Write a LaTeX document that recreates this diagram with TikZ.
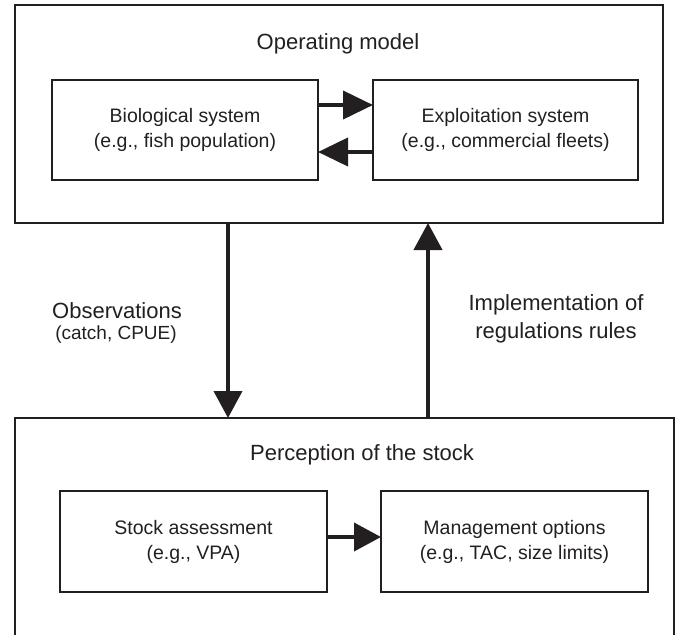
\documentclass[tikz,border=0pt]{standalone}
\usepackage{fontspec}
\setmainfont{Liberation Sans}
\usetikzlibrary{arrows.meta}
\definecolor{ink}{HTML}{231F20}
\begin{document}
\begin{tikzpicture}[x=1pt,y=-1pt,
  outerbox/.style={draw=ink, line width=2pt, inner sep=0pt, outer sep=0pt},
  innerbox/.style={draw=ink, line width=1.4pt, inner sep=0pt, outer sep=0pt, align=center,
    font=\fontsize{19.5}{25}\selectfont, text=ink},
  title/.style={font=\fontsize{22}{26}\selectfont, text=ink, inner sep=0pt, align=center},
  label/.style={text=ink, inner sep=0pt, align=center},
  bigarrow/.style={draw=ink, line width=4pt, -{Triangle[length=30pt,width=28pt]}},
  vertarrow/.style={draw=ink, line width=4pt, -{Triangle[length=27pt,width=28pt]}}
]
\useasboundingbox (0,0) rectangle (676,634);
\clip (0,0) rectangle (676,634);

% outer boxes
\node[outerbox, minimum width=648pt, minimum height=218pt] (om) at (339,114) {};
\node[outerbox, minimum width=659pt, minimum height=242pt] (ps) at (344.5,539) {};

% titles
\node[title] (omt) at (338,44) {Operating model};
\node[title] (pst) at (362,455) {Perception of the stock};

% inner boxes
\node[innerbox, minimum width=266pt, minimum height=100pt] (bio) at (185,130)
  {Biological system\\(e.g., fish population)};
\node[innerbox, minimum width=265pt, minimum height=100pt] (exp) at (505.5,130)
  {Exploitation system\\(e.g., commercial fleets)};
\node[innerbox, minimum width=267pt, minimum height=101pt] (sa) at (193.5,541.5)
  {Stock assessment\\(e.g., VPA)};
\node[innerbox, minimum width=267pt, minimum height=101pt] (mo) at (514.5,541.5)
  {Management options\\(e.g., TAC, size limits)};

% horizontal arrows
\draw[bigarrow] (bio.east |- 0,105) -- (exp.west |- 0,105);
\draw[bigarrow] (exp.west |- 0,152) -- (bio.east |- 0,152);
\draw[vertarrow] (sa.east |- 0,537) -- (mo.west |- 0,537);

% vertical arrows
\coordinate (dtop) at (228,223);
\coordinate (dbot) at (228,418);
\coordinate (utop) at (428,223);
\coordinate (ubot) at (428,418);
\draw[vertarrow] (om.south -| dtop) -- (ps.north -| dbot);
\draw[vertarrow] (ps.north -| ubot) -- (om.south -| utop);

% arrow labels
\node[label, font=\fontsize{22}{26}\selectfont] (obs) at (117,311) {Observations};
\node[label, font=\fontsize{19}{23}\selectfont] (obs2) at (116,335) {(catch, CPUE)};
\node[label, font=\fontsize{22}{28.5}\selectfont] (impl) at (556,319) {Implementation of\\regulations rules};
\end{tikzpicture}
\end{document}
